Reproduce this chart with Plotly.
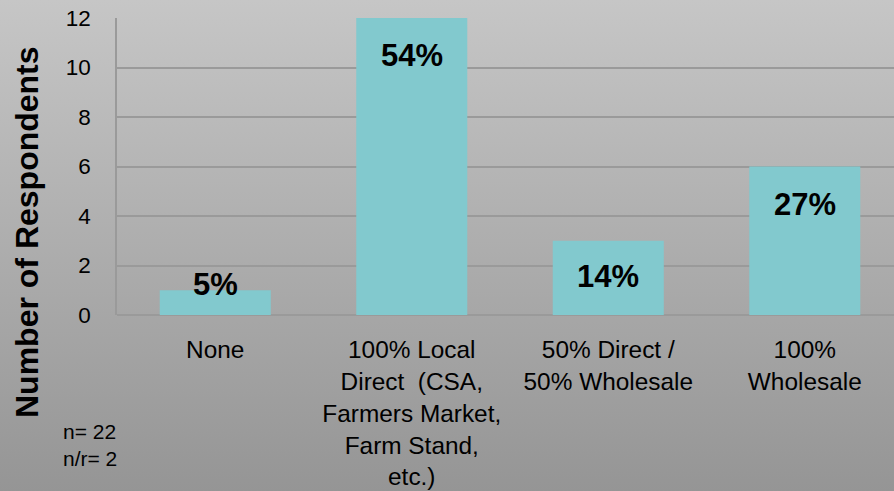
import base64
import plotly.graph_objects as go

categories = [
    "None",
    "100% Local<br>Direct  (CSA,<br>Farmers Market,<br>Farm Stand,<br>etc.)",
    "50% Direct /<br>50% Wholesale",
    "100%<br>Wholesale",
]
respondents = [1, 12, 3, 6]
pct_labels = ["5%", "54%", "14%", "27%"]
label_shift = [6, -37, -36, -38]
y_ticks = [0, 2, 4, 6, 8, 10, 12]
note_lines = ["n= 22", "n/r= 2"]
y_title = "Number of Respondents"

FONT = "Liberation Sans, Arial, sans-serif"
BAR = "#82c9ce"
GRID = "#9a9a9a"

plot_w, plot_h = 777, 297

svg = (
    '<svg xmlns="http://www.w3.org/2000/svg" width="894" height="491">'
    '<defs><linearGradient id="g" x1="0" y1="0" x2="0" y2="1">'
    '<stop offset="0" stop-color="#c6c6c6"/><stop offset="1" stop-color="#959595"/>'
    '</linearGradient></defs><rect width="894" height="491" fill="url(#g)"/></svg>'
)
bg_uri = "data:image/svg+xml;base64," + base64.b64encode(svg.encode()).decode()

fig = go.Figure()
fig.add_trace(go.Bar(
    x=list(range(len(categories))),
    y=respondents,
    marker=dict(color=BAR, line=dict(width=0)),
    width=0.565,
    hoverinfo="skip",
))

for i, (v, t, s) in enumerate(zip(respondents, pct_labels, label_shift)):
    fig.add_annotation(x=i, y=v, text=t, showarrow=False, yshift=s,
                       font=dict(family=FONT, size=31, color="black", weight="bold"))

fig.add_annotation(xref="paper", yref="paper", x=(27 - 117) / plot_w, y=(315 - 232) / plot_h,
                   text=y_title, textangle=-90, showarrow=False,
                   xanchor="center", yanchor="middle",
                   font=dict(family=FONT, size=32, color="black", weight="bold"))

fig.add_annotation(xref="paper", yref="paper", x=(61 - 117) / plot_w, y=(315 - 418) / plot_h,
                   xanchor="left", yanchor="top", align="left",
                   text="<br>".join(note_lines), showarrow=False,
                   font=dict(family=FONT, size=21, color="black"))

fig.add_layout_image(dict(
    source=bg_uri, xref="paper", yref="paper",
    x=-117 / plot_w, y=1 + 18 / plot_h,
    sizex=894 / plot_w, sizey=491 / plot_h,
    xanchor="left", yanchor="top", sizing="stretch", layer="below",
))

fig.update_layout(
    width=894, height=491,
    margin=dict(l=117, r=0, t=18, b=176, autoexpand=False),
    paper_bgcolor="#959595",
    plot_bgcolor="rgba(0,0,0,0)",
    showlegend=False,
    font=dict(family=FONT, color="black"),
    xaxis=dict(
        tickmode="array", tickvals=list(range(len(categories))), ticktext=categories,
        range=[-0.5, 3.454], showgrid=False, zeroline=False, showline=False,
        ticks="", tickfont=dict(size=24.4), tickangle=0, ticklabelstandoff=18,
        automargin=False,
    ),
    yaxis=dict(
        range=[0, 12], tickvals=y_ticks, showgrid=True, gridcolor=GRID, gridwidth=1.5,
        zeroline=True, zerolinecolor=GRID, zerolinewidth=1.5,
        showline=True, linecolor=GRID, linewidth=1.5, ticks="",
        tickfont=dict(size=22.5), ticklabelstandoff=20, automargin=False,
    ),
)

fig.write_html(
    "out.html",
    config={"displayModeBar": False},
    post_script="document.body.style.margin='0';document.body.style.padding='0';"
                "document.body.style.overflow='hidden';",
)
